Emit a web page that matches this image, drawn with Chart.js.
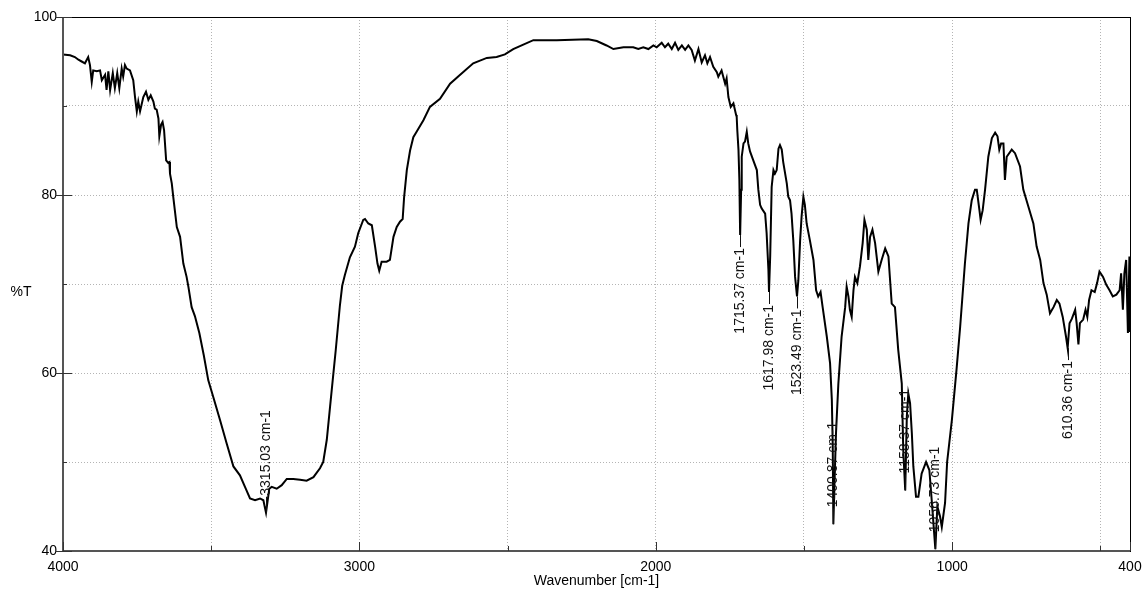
<!DOCTYPE html>
<html>
<head>
<meta charset="utf-8">
<title>IR spectrum</title>
<script src="https://cdn.jsdelivr.net/npm/chart.js@4.4.0/dist/chart.umd.min.js"></script>
<style>
  html, body { margin: 0; padding: 0; background: #fff; }
  #wrap { width: 1143px; height: 597px; }
</style>
</head>
<body>
<div id="wrap"><canvas id="ir" width="1143" height="597"></canvas></div>
<script>
// spectrum, wavenumber in cm-1 (descending) and %T
const wavenumber = [
  4000, 3976, 3960, 3948, 3937, 3926, 3915, 3909, 3903, 3898, 3886, 3875, 3869, 3858, 3853, 3847,
  3841, 3832, 3825, 3817, 3810, 3802, 3797, 3791, 3785, 3774, 3763, 3757, 3751, 3746, 3740, 3729,
  3720, 3712, 3704, 3695, 3690, 3684, 3678, 3675, 3669, 3664, 3659, 3652, 3645, 3641, 3639, 3633,
  3628, 3616, 3605, 3594, 3583, 3577, 3566, 3555, 3540, 3525, 3510, 3493, 3470, 3448, 3425, 3403,
  3386, 3369, 3352, 3335, 3324, 3315.03, 3304, 3296, 3279, 3262, 3245, 3223, 3200, 3178, 3155, 3133,
  3122, 3110, 3099, 3090, 3080, 3066, 3058, 3049, 3032, 3015, 3004, 2987, 2981, 2970, 2958, 2947,
  2939, 2933, 2925, 2908, 2897, 2885, 2874, 2863, 2854, 2849, 2840, 2829, 2818, 2807, 2784, 2762,
  2728, 2694, 2660, 2616, 2570, 2537, 2509, 2481, 2447, 2413, 2334, 2228, 2199, 2166, 2143, 2109,
  2076, 2059, 2042, 2025, 2008, 1997, 1980, 1969, 1958, 1946, 1935, 1924, 1912, 1901, 1890, 1879,
  1868, 1856, 1845, 1834, 1826, 1817, 1806, 1794, 1789, 1778, 1766, 1761, 1755, 1747, 1738, 1729,
  1727, 1725, 1721, 1718, 1715.37, 1712, 1710, 1704, 1699, 1693, 1688, 1682, 1671, 1659, 1654, 1648,
  1643, 1631, 1626, 1620, 1617.98, 1614, 1609, 1603, 1598, 1592, 1586, 1581, 1575, 1570, 1558, 1553,
  1547, 1542, 1536, 1530, 1523.49, 1519, 1513, 1508, 1502, 1497, 1491, 1480, 1468, 1459, 1452, 1444,
  1437, 1423, 1412, 1406, 1403, 1400.87, 1397, 1392, 1384, 1373, 1361, 1356, 1350, 1345, 1339, 1333,
  1328, 1320, 1311, 1302, 1296, 1288, 1283, 1277, 1269, 1260, 1249, 1238, 1226, 1215, 1204, 1193,
  1182, 1170, 1165, 1158.37, 1153, 1148, 1142, 1136, 1131, 1122, 1114, 1103, 1088, 1077, 1069, 1056.73,
  1050, 1041, 1035, 1024, 1017, 1001, 985, 973, 957, 945, 934, 923, 917, 908, 904, 897,
  889, 878, 866, 855, 847, 841, 835, 827, 822, 816, 799, 788, 771, 760, 743, 726,
  715, 703, 692, 681, 670, 658, 647, 638, 627, 616, 610.36, 604, 596, 585, 580, 574,
  569, 558, 550, 544, 538, 530, 519, 511, 503, 491, 480, 469, 458, 446, 435, 430,
  424, 419, 413, 407, 402, 400
];
const transmittance = [
  95.8, 95.7, 95.5, 95.2, 95.0, 94.8, 95.5, 94.6, 92.7, 94.0, 93.9, 94.0, 92.9, 93.5, 91.8, 93.9,
  91.8, 93.7, 92.0, 93.7, 92.0, 94.2, 93.3, 94.6, 94.2, 94.0, 92.9, 91.0, 89.4, 90.5, 89.4, 91.0,
  91.6, 90.7, 91.2, 90.5, 89.7, 89.6, 88.6, 86.6, 87.9, 88.2, 87.3, 83.9, 83.6, 83.7, 82.4, 81.3,
  79.8, 76.4, 75.3, 72.3, 70.8, 69.7, 67.4, 66.4, 64.5, 62.0, 59.2, 57.3, 54.7, 52.1, 49.5, 48.5,
  47.2, 45.9, 45.7, 45.9, 45.7, 44.3, 47.0, 47.2, 47.0, 47.4, 48.1, 48.1, 48.0, 47.9, 48.3, 49.3,
  50.0, 52.5, 56.2, 59.2, 62.5, 67.5, 69.8, 71.0, 73.0, 74.2, 75.7, 77.2, 77.3, 76.8, 76.6, 74.2,
  72.3, 71.5, 72.5, 72.5, 72.7, 75.3, 76.4, 77.0, 77.3, 79.8, 82.8, 85.0, 86.5, 87.1, 88.4, 89.9,
  90.8, 92.5, 93.5, 94.8, 95.4, 95.5, 95.8, 96.4, 96.9, 97.4, 97.4, 97.5, 97.3, 96.8, 96.4, 96.6,
  96.6, 96.4, 96.6, 96.4, 96.8, 96.6, 97.1, 96.6, 97.0, 96.4, 97.1, 96.3, 96.8, 96.3, 96.8, 96.3,
  95.1, 96.4, 94.9, 95.7, 94.8, 95.5, 94.4, 93.8, 93.3, 94.0, 92.5, 93.1, 91.0, 89.9, 90.3, 89.0,
  88.8, 87.3, 85.1, 81.7, 75.5, 80.6, 84.3, 85.8, 86.0, 87.1, 85.8, 84.9, 83.9, 82.8, 80.6, 78.9,
  78.5, 77.9, 75.7, 71.6, 69.1, 73.1, 80.9, 82.8, 82.4, 82.8, 85.2, 85.6, 85.1, 83.7, 81.3, 79.8,
  79.4, 77.9, 74.9, 70.8, 68.6, 70.4, 74.9, 77.6, 79.8, 78.9, 76.8, 74.9, 72.7, 69.3, 68.6, 69.1,
  67.4, 64.1, 61.1, 57.0, 52.0, 43.0, 47.6, 53.2, 58.8, 64.1, 67.4, 69.7, 68.6, 67.1, 66.3, 69.3,
  70.8, 70.1, 72.0, 74.6, 77.2, 76.1, 72.7, 75.3, 76.1, 74.6, 71.4, 72.7, 74.0, 73.1, 67.8, 67.4,
  62.6, 58.8, 51.3, 46.8, 55.1, 57.7, 56.6, 53.2, 49.5, 46.1, 46.1, 48.7, 50.0, 49.1, 45.7, 40.2,
  45.0, 43.9, 42.7, 45.4, 50.0, 54.7, 60.5, 65.2, 72.3, 76.8, 79.4, 80.6, 80.6, 78.3, 77.2, 78.3,
  80.6, 84.3, 86.4, 87.0, 86.6, 85.1, 85.8, 85.8, 81.7, 84.3, 85.1, 84.7, 83.2, 80.6, 78.7, 76.8,
  74.2, 72.7, 70.1, 68.8, 66.7, 67.4, 68.2, 67.8, 66.3, 64.1, 62.8, 65.6, 66.1, 67.1, 65.6, 63.2,
  65.6, 66.0, 67.1, 66.3, 68.2, 69.3, 69.1, 70.1, 71.4, 70.8, 69.9, 69.3, 68.6, 68.8, 69.3, 71.2,
  67.1, 71.2, 72.7, 64.5, 73.1, 64.6
];

// picked peaks
const peakWavenumber = [3315.03, 1715.37, 1617.98, 1523.49, 1400.87, 1158.37, 1056.73, 610.36];
const peakTransmittance = [44.3, 75.5, 69.1, 68.6, 43.0, 46.8, 40.2, 62.8];
const peakLabelSide = ['up', 'down', 'down', 'down', 'up', 'up', 'up', 'down'];

// axes
const xTickValues = [4000, 3500, 3000, 2500, 2000, 1500, 1000, 500, 400];
const xTickLabels = [4000, 3000, 2000, 1000, 400];
const yTickValues = [40, 50, 60, 70, 80, 90, 100];
const yTickLabels = [40, 60, 80, 100];

const FONT = '"Liberation Sans", Arial, sans-serif';
Chart.defaults.font.family = FONT;
Chart.defaults.font.size = 14;
Chart.defaults.color = '#000';

// frame, tick marks, axis titles and peak labels
const decor = {
  id: 'decor',
  afterDatasetsDraw(chart) {
    const { ctx, scales: { x, y } } = chart;
    ctx.save();
    ctx.strokeStyle = '#111';
    ctx.fillStyle = '#111';
    ctx.lineWidth = 1;
    ctx.font = '14px ' + FONT;
    ctx.textBaseline = 'middle';
    peakWavenumber.forEach((w, i) => {
      const px = Math.round(x.getPixelForValue(w)) + 0.5;
      const py = y.getPixelForValue(peakTransmittance[i]);
      const dir = peakLabelSide[i] === 'down' ? 1 : -1;
      const len = dir > 0 ? 12 : 16;
      ctx.beginPath();
      ctx.moveTo(px, py);
      ctx.lineTo(px, py + dir * len);
      ctx.stroke();
      ctx.save();
      ctx.translate(px, py + dir * (len + 1));
      ctx.rotate(-Math.PI / 2);
      ctx.textAlign = dir > 0 ? 'right' : 'left';
      ctx.fillText(w.toFixed(2) + ' cm-1', 0, 0);
      ctx.restore();
    });
    ctx.restore();
  },
  afterDraw(chart) {
    const { ctx, chartArea: a, scales: { x, y } } = chart;
    ctx.save();
    // plot frame
    ctx.strokeStyle = '#000';
    ctx.lineWidth = 1;
    ctx.strokeRect(a.left + 0.5, a.top + 0.5, a.right - a.left, a.bottom - a.top);
    ctx.strokeStyle = '#555';
    ctx.lineWidth = 2;
    ctx.beginPath();
    ctx.moveTo(a.left, a.top);
    ctx.lineTo(a.left, a.bottom);
    ctx.lineTo(a.right, a.bottom);
    ctx.stroke();

    // tick marks
    ctx.strokeStyle = '#333';
    ctx.lineWidth = 1;
    ctx.beginPath();
    xTickValues.forEach(v => {
      const px = Math.round(x.getPixelForValue(v)) + 0.5;
      const major = xTickLabels.includes(v);
      ctx.moveTo(px, a.bottom);
      ctx.lineTo(px, a.bottom - (major ? 9 : 5));
    });
    yTickValues.forEach(v => {
      const py = Math.round(y.getPixelForValue(v)) + 0.5;
      const major = yTickLabels.includes(v);
      ctx.moveTo(a.left - (major ? 8 : 0), py);
      ctx.lineTo(a.left + (major ? 9 : 4), py);
    });
    ctx.stroke();

    // axis titles
    ctx.fillStyle = '#000';
    ctx.font = '14px ' + FONT;
    ctx.textAlign = 'center';
    ctx.textBaseline = 'middle';
    ctx.fillText('Wavenumber [cm-1]', (a.left + a.right) / 2, 581);
    ctx.fillText('%T', 21, 292);
    ctx.restore();
  }
};

const gridStyle = { color: '#b4b4b4', lineWidth: 1, drawTicks: false };

new Chart(document.getElementById('ir'), {
  type: 'line',
  data: {
    datasets: [{
      data: wavenumber.map((w, i) => ({ x: w, y: transmittance[i] })),
      borderColor: '#000',
      borderWidth: 2,
      pointRadius: 0,
      tension: 0,
      fill: false
    }]
  },
  options: {
    responsive: false,
    animation: false,
    layout: { padding: { left: 0, right: 13, top: 17, bottom: 0 } },
    plugins: { legend: { display: false }, tooltip: { enabled: false } },
    scales: {
      x: {
        type: 'linear',
        reverse: true,
        min: 400,
        max: 4000,
        afterBuildTicks: s => { s.ticks = xTickValues.map(v => ({ value: v })); },
        afterFit: s => {
          s.height = 46;
          s.paddingLeft = 0;
          s.paddingRight = 0;
        },
        ticks: {
          autoSkip: false,
          maxRotation: 0,
          padding: 8,
          callback: v => (xTickLabels.includes(v) ? String(v) : '')
        },
        grid: gridStyle,
        border: { display: false, dash: [1, 2] }
      },
      y: {
        min: 40,
        max: 100,
        afterBuildTicks: s => { s.ticks = yTickValues.map(v => ({ value: v })); },
        afterFit: s => {
          s.width = 63;
          s.paddingTop = 0;
          s.paddingBottom = 0;
        },
        ticks: {
          padding: 6,
          callback: v => (yTickLabels.includes(v) ? String(v) : '')
        },
        grid: gridStyle,
        border: { display: false, dash: [1, 2] }
      }
    }
  },
  plugins: [decor]
});
</script>
</body>
</html>
